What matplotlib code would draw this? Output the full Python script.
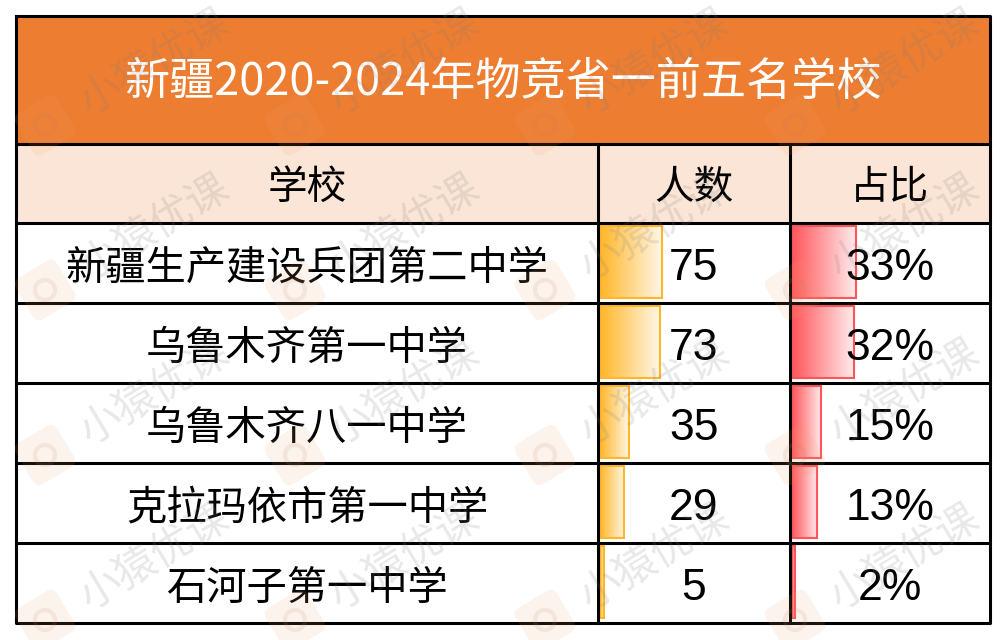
import numpy as np
import matplotlib
matplotlib.use("Agg")
import matplotlib.pyplot as plt
from matplotlib.patches import Rectangle, FancyBboxPatch, Circle
from matplotlib.colors import LinearSegmentedColormap, to_rgb
import matplotlib.transforms as mtransforms

# data
title = "新疆2020-2024年物竞省一前五名学校"
headers = ["学校", "人数", "占比"]
schools = ["新疆生产建设兵团第二中学", "乌鲁木齐第一中学", "乌鲁木齐八一中学",
           "克拉玛依市第一中学", "石河子第一中学"]
counts = [75, 73, 35, 29, 5]
shares = [33, 32, 15, 13, 2]
watermark = "小猿优课"

W, H = 1006, 640
CJK = ["Noto Sans CJK SC", "DejaVu Sans"]
ARIAL = ["Liberation Sans", "DejaVu Sans"]

# table layout in pixels
col_x = [16, 598, 790, 990]
title_y = (16, 143.5)
head_y = (143.5, 223)
row_h = 80
rows_top = 223
rows_bot = rows_top + row_h * len(schools)

fig = plt.figure(figsize=(W / 100, H / 100), dpi=100)


def pixel_axes():
    a = fig.add_axes([0, 0, 1, 1])
    a.set_xlim(0, W)
    a.set_ylim(H, 0)
    a.axis("off")
    a.patch.set_alpha(0)
    return a


# layer 1: cell backgrounds
bg = pixel_axes()
bg.add_patch(Rectangle((col_x[0], title_y[0]), col_x[-1] - col_x[0], title_y[1] - title_y[0],
                       facecolor="#ED7D31", edgecolor="none"))
bg.add_patch(Rectangle((col_x[0], head_y[0]), col_x[-1] - col_x[0], head_y[1] - head_y[0],
                       facecolor="#FBE5D6", edgecolor="none"))


# layer 2: data bars with gradient fill
def data_bars(values, x0, x1, xmax, color):
    bax = fig.add_axes([x0 / W, 1 - rows_bot / H, (x1 - x0) / W, (rows_bot - rows_top) / H])
    bax.axis("off")
    bax.patch.set_alpha(0)
    rgb = np.array(to_rgb(color))
    cmap = LinearSegmentedColormap.from_list("g", [rgb, rgb * 0.1 + 0.9])
    grad = np.linspace(0, 1, 256).reshape(1, -1)
    bars = bax.barh([k + 0.49 for k in range(len(values))], values, height=0.9,
                    facecolor="none", edgecolor=color, linewidth=1.5, zorder=3)
    for b in bars:
        im = bax.imshow(grad, cmap=cmap, aspect="auto", zorder=2,
                        extent=[b.get_x(), b.get_x() + b.get_width(),
                                b.get_y() + b.get_height(), b.get_y()])
        im.set_clip_path(b)
    bax.set_xlim(0, xmax)
    bax.set_ylim(len(values), 0)


data_bars(counts, 599.5, 790, 228, "#FFB628")
data_bars(shares, 791.5, 990, 102, "#FF555A")

# layer 3: text and grid lines
ax = pixel_axes()
ax.text((col_x[0] + col_x[-1]) / 2, 82, title, color="white", fontsize=32.5,
        family=CJK, ha="center", va="center")

centers = [(col_x[i] + col_x[i + 1]) / 2 for i in range(3)]
for cx, h in zip(centers, headers):
    ax.text(cx, 188, h, fontsize=28.5, family=CJK, ha="center", va="center")

for i, (s, c, p) in enumerate(zip(schools, counts, shares)):
    yc = rows_top + row_h * i + row_h / 2
    ax.text(centers[0], yc + 5, s, fontsize=29, family=CJK, ha="center", va="center")
    ax.text(centers[1], yc + 6, str(c), fontsize=32, family=ARIAL, ha="center", va="center")
    ax.text(centers[2], yc + 6, f"{p}%", fontsize=32, family=ARIAL, ha="center", va="center")

lw = 2.2
ax.plot([col_x[0], col_x[-1], col_x[-1], col_x[0], col_x[0]],
        [title_y[0], title_y[0], rows_bot, rows_bot, title_y[0]], color="black", lw=lw)
for y in [title_y[1], head_y[1]] + [rows_top + row_h * k for k in range(1, len(schools))]:
    ax.plot([col_x[0], col_x[-1]], [y, y], color="black", lw=lw)
for x in col_x[1:-1]:
    ax.plot([x, x], [head_y[0], rows_bot], color="black", lw=lw)

# layer 4: watermark overlay
wm = pixel_axes()
for lx in [45, 295, 545, 795]:
    for ly in [125, 290, 455, 620]:
        tr = mtransforms.Affine2D().rotate_deg_around(lx, ly, -31) + wm.transData
        wm.add_patch(FancyBboxPatch((lx - 22, ly - 22), 44, 44,
                                    boxstyle="round,pad=2,rounding_size=8",
                                    facecolor="#F4A070", edgecolor="none", alpha=0.12, transform=tr))
        wm.add_patch(Circle((lx, ly), 10, facecolor="none", edgecolor="#C08060", lw=3, alpha=0.13))
        wm.text(lx + 110, ly - 62, watermark, fontsize=30, family=CJK, color="#808080",
                alpha=0.18, rotation=31, ha="center", va="center")

fig.savefig("out.png", dpi=100)
